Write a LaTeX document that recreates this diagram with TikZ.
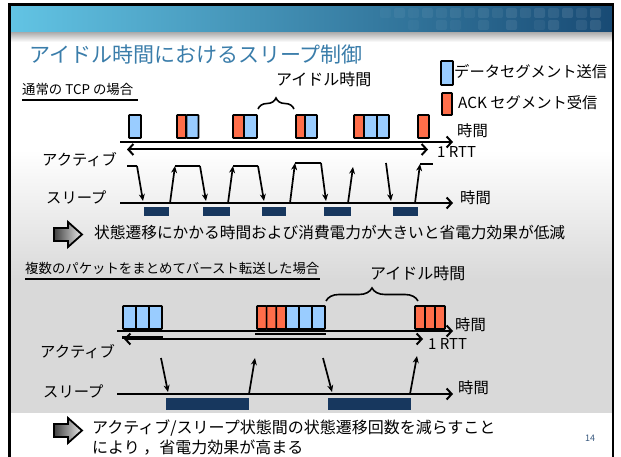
\documentclass[tikz,border=0pt]{standalone}
\usepackage{fontspec}
\setmainfont{Noto Sans CJK JP}
\usetikzlibrary{arrows.meta,decorations.pathreplacing}
\definecolor{pblue}{HTML}{99CCFF}
\definecolor{pred}{HTML}{FF6E4A}
\definecolor{navy}{HTML}{17375E}
\definecolor{titleblue}{HTML}{3A7DAA}
\definecolor{hdrL}{HTML}{62C4E4}
\definecolor{hdrR}{HTML}{184A74}
\definecolor{pgnum}{HTML}{3A5A80}
\begin{document}
\begin{tikzpicture}[x=1pt,y=-1pt,
  pkt/.style={draw=black,line width=1.6pt,minimum height=23pt,inner sep=0pt,rounded corners=0.6pt},
  bp/.style={pkt,fill=pblue,minimum width=#1},
  rp/.style={pkt,fill=pred,minimum width=#1},
  lbl/.style={inner sep=0pt,anchor=west,font=\fontsize{15.3}{18}\selectfont},
  txt/.style={inner sep=0pt,anchor=west,font=\fontsize{16}{20}\selectfont,align=left},
  sect/.style={inner sep=0pt,anchor=west,font=\fontsize{13.4}{15}\selectfont},
  taxis/.style={line width=2pt,-{Straight Barb[length=5pt,width=11pt]}},
  rtt/.style={line width=2pt,{Straight Barb[length=5pt,width=11pt]}-{Straight Barb[length=5pt,width=11pt]}},
  tr/.style={line width=1.7pt,-{Stealth[length=7pt,width=6pt]}},
  lvl/.style={line width=1.7pt},
  sbar/.style={fill=navy},
  brc/.style={decorate,decoration={brace,amplitude=#1},line width=1.6pt},
  icon/.style={draw=black,line width=1.8pt,left color=black!75,right color=black!8,line join=miter},
  sq/.style={fill=white,rounded corners=2pt}
]
\useasboundingbox (0,0) rectangle (621,457);
\fill[white] (0,0) rectangle (621,457);
% background
\shade[top color=white,bottom color=black!15] (10,150) rectangle (612,280);
\fill[black!15] (10,279.5) rectangle (612,413);
% header
\shade[left color=hdrL,right color=hdrR] (10,5.5) rectangle (612,33);
\foreach \x/\o in {380/0.03,394/0.05,408/0.04,422/0.06,436/0.05,450/0.07,464/0.05,478/0.08,492/0.06,506/0.09,520/0.07,534/0.09,548/0.08,562/0.1,576/0.08,590/0.1}{
  \fill[sq,opacity=\o] (\x,8) rectangle ++(11,10);
}
\foreach \x/\o in {408/0.03,436/0.05,450/0.04,478/0.06,506/0.08,534/0.05,548/0.09,576/0.08,590/0.1}{
  \fill[sq,opacity=\o] (\x,20) rectangle ++(11,10);
}
\shade[top color=black!30,bottom color=white] (10,33) rectangle (612,42);
% frame
\draw[line width=2.5pt] (9.5,457) -- (9.5,4.5) -- (613,4.5) -- (613,457);

% title
\node[inner sep=0pt,anchor=west,text=titleblue,font=\fontsize{21}{24}\selectfont] (title) at (29,55) {アイドル時間におけるスリープ制御};

% legend
\node[bp=12pt,minimum height=24pt] (legb) at (447,73) {};
\node[lbl,anchor=west] (legbt) at (454,72) {データセグメント送信};
\node[rp=10pt,minimum height=22pt] (legr) at (447,104) {};
\node[lbl,anchor=west] (legrt) at (458,103) {ACK セグメント受信};

% ---------- section 1 ----------
\node[sect] (s1) at (22,89) {通常の TCP の場合};
\coordinate (u1a) at (22,100); \coordinate (u1b) at (138,100);
\draw[line width=1.4pt] (u1a) -- (u1b);
\node[lbl,font=\fontsize{16}{18}\selectfont] (idle1) at (276,79) {アイドル時間};
\coordinate (br1a) at (258,109);
\coordinate (br1b) at (294,109);
\draw[brc=11pt] (br1a) -- (br1b);

\node[bp=12pt] (p1) at (135,126.5) {};
\node[rp=9pt] (p2) at (181.5,126.5) {};
\node[bp=12pt] (p3) at (192.5,126.5) {};
\node[rp=11pt] (p4) at (238.5,126.5) {};
\node[bp=13pt] (p5) at (250.5,126.5) {};
\node[rp=9pt] (p6) at (300.5,126.5) {};
\node[bp=12pt] (p7) at (311,126.5) {};
\node[rp=10pt] (p8) at (359,126.5) {};
\node[bp=13pt] (p9) at (370.5,126.5) {};
\node[bp=12pt] (p10) at (383,126.5) {};
\node[rp=11pt] (p11) at (423.5,126.5) {};

\coordinate (a1s) at (120,142);
\coordinate (a1e) at (453,142);
\draw[taxis] (a1s) -- (a1e);
\node[lbl] (time1) at (457,131) {時間};
\coordinate (r1s) at (127,149.5);
\coordinate (r1e) at (428,149.5);
\draw[rtt] (r1s) -- (r1e);
\node[inner sep=0pt,anchor=west,font=\fontsize{15}{16}\selectfont] (rtt1) at (437,152) {1 RTT};

\node[lbl] (act1) at (42,160) {アクティブ};
\node[lbl] (slp1) at (46,197) {スリープ};
\coordinate (s1s) at (120,203);
\coordinate (s1e) at (453,203);
\draw[taxis] (s1s) -- (s1e);
\node[lbl] (time2) at (460,198) {時間};

\foreach \a/\b in {144/169,203/230,262/286,324/351,393/418}{
  \fill[sbar] (\a,207) rectangle (\b,216);
}

% transitions section 1
\coordinate (t1a) at (127,166); \coordinate (t1b) at (137,166); \coordinate (t1c) at (143,201);
\draw[lvl] (t1a) -- (t1b); \draw[tr] (t1b) -- (t1c);
\coordinate (t2a) at (170,203); \coordinate (t2b) at (175,166); \coordinate (t2c) at (200,166); \coordinate (t2d) at (206,201);
\draw[tr] (t2a) -- (t2b); \draw[lvl] (t2b) -- (t2c); \draw[tr] (t2c) -- (t2d);
\coordinate (t3a) at (228,203); \coordinate (t3b) at (233,166); \coordinate (t3c) at (258,166); \coordinate (t3d) at (264,201);
\draw[tr] (t3a) -- (t3b); \draw[lvl] (t3b) -- (t3c); \draw[tr] (t3c) -- (t3d);
\coordinate (t4a) at (290,203); \coordinate (t4b) at (295,163); \coordinate (t4c) at (321,163); \coordinate (t4d) at (326,201);
\draw[tr] (t4a) -- (t4b); \draw[lvl] (t4b) -- (t4c); \draw[tr] (t4c) -- (t4d);
\coordinate (t5a) at (348,203); \coordinate (t5b) at (353,167);
\draw[tr] (t5a) -- (t5b);
\coordinate (t6a) at (386,163); \coordinate (t6b) at (391,201);
\draw[tr] (t6a) -- (t6b);
\coordinate (t7a) at (415,203); \coordinate (t7b) at (420,164); \coordinate (t7c) at (433,164);
\draw[tr] (t7a) -- (t7b); \draw[lvl] (t7b) -- (t7c);

% arrow icon 1
\draw[icon] (54,228) -- (68,228) -- (68,222) -- (82,234.5) -- (68,247) -- (68,241) -- (54,241) -- cycle;
\node[txt,font=\fontsize{15.7}{20}\selectfont] (note1) at (94,233) {状態遷移にかかる時間および消費電力が大きいと省電力効果が低減};

% ---------- section 2 ----------
\node[sect] (s2) at (25,268) {複数のパケットをまとめてバースト転送した場合};
\coordinate (u2a) at (25,279); \coordinate (u2b) at (320,279);
\draw[line width=1.4pt] (u2a) -- (u2b);
\node[lbl,font=\fontsize{16}{18}\selectfont] (idle2) at (370,273) {アイドル時間};
\coordinate (br2a) at (326,301);
\coordinate (br2b) at (418,301);
\draw[brc=13pt] (br2a) -- (br2b);

\node[bp=13pt] (q1) at (129.5,317.5) {};
\node[bp=13pt] (q2) at (142.5,317.5) {};
\node[bp=13pt] (q3) at (155.5,317.5) {};
\node[rp=9.7pt] (q4) at (261.8,317.5) {};
\node[rp=9.7pt] (q5) at (271.5,317.5) {};
\node[rp=9.7pt] (q6) at (281.2,317.5) {};
\node[bp=13pt] (q7) at (292.5,317.5) {};
\node[bp=13pt] (q8) at (305.5,317.5) {};
\node[bp=13pt] (q9) at (318.5,317.5) {};
\node[rp=10pt] (q10) at (420,317.5) {};
\node[rp=10pt] (q11) at (430,317.5) {};
\node[rp=10pt] (q12) at (440,317.5) {};

\coordinate (a2s) at (117,331);
\coordinate (a2e) at (453,331);
\draw[taxis] (a2s) -- (a2e);
\draw[line width=2.6pt] (q4.south west) ++(-1,4) -- ([yshift=-4pt]q9.south east);
\node[lbl] (time3) at (455,325) {時間};
\coordinate (r2s) at (124,339);
\coordinate (r2e) at (423,339);
\draw[rtt] (r2s) -- (r2e);
\draw[line width=2.6pt] ([yshift=-7.5pt]q1.south west) -- ([yshift=-7.5pt]q3.south east);
\node[inner sep=0pt,anchor=west,font=\fontsize{15}{16}\selectfont] (rtt2) at (428,344) {1 RTT};

\node[lbl] (act2) at (40,352) {アクティブ};
\node[lbl] (slp2) at (43,391) {スリープ};
\coordinate (s2s) at (117,394);
\coordinate (s2e) at (453,394);
\draw[taxis] (s2s) -- (s2e);
\node[lbl] (time4) at (458,388) {時間};
\fill[sbar] (166,398) rectangle (249,410);
\fill[sbar] (328,398) rectangle (411,410);

\coordinate (v1a) at (161,358); \coordinate (v1b) at (168,392);
\draw[tr] (v1a) -- (v1b);
\coordinate (v2a) at (249,394); \coordinate (v2b) at (255,358);
\draw[tr] (v2a) -- (v2b);
\coordinate (v3a) at (323,358); \coordinate (v3b) at (332,392);
\draw[tr] (v3a) -- (v3b);
\coordinate (v4a) at (410,394); \coordinate (v4b) at (417,356);
\draw[tr] (v4a) -- (v4b);

% arrow icon 2
\draw[icon] (54,424) -- (68,424) -- (68,418) -- (82,430.5) -- (68,443) -- (68,437) -- (54,437) -- cycle;
\node[txt] (note2) at (92,437) {アクティブ/スリープ状態間の状態遷移回数を減らすこと\\により ，省電力効果が高まる};

\node[inner sep=0pt,text=pgnum,font=\fontsize{9}{10}\selectfont] (pg) at (590,438) {14};
\end{tikzpicture}
\end{document}
